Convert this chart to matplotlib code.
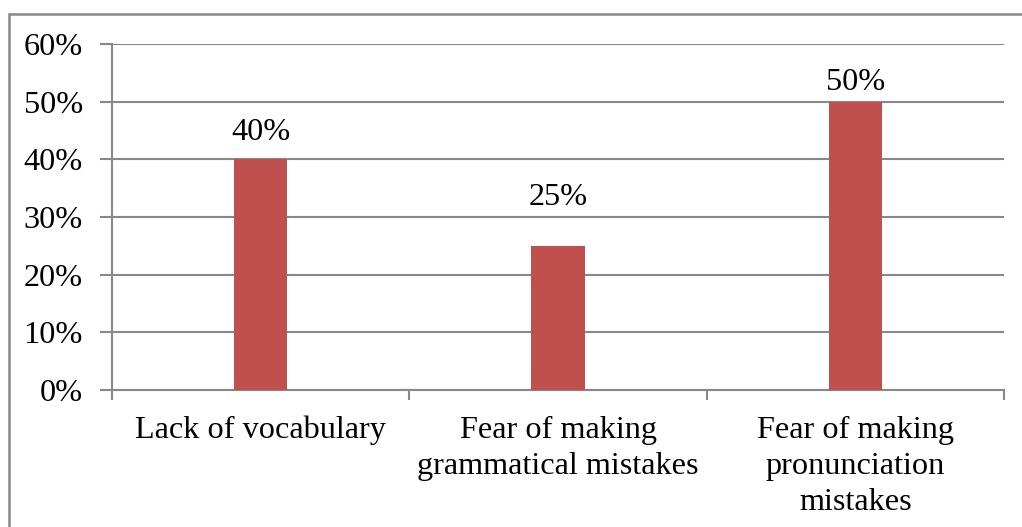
import numpy as np
import matplotlib.pyplot as plt
from matplotlib.patches import Rectangle
from matplotlib.ticker import FuncFormatter

categories = ["Lack of vocabulary", "Fear of making\ngrammatical mistakes",
              "Fear of making\npronunciation\nmistakes"]
values = [40, 25, 50]
value_labels = ["40%", "25%", "50%"]

GRAY = "#888888"
BAR = "#C0504D"
FS = 23.2

plt.rcParams['font.family'] = ['Liberation Serif', 'DejaVu Serif']

fig = plt.figure(figsize=(10.22, 5.27), dpi=100)
ax = fig.add_axes([112/1022, 1-390/527, (1004-112)/1022, (390-44)/527])

x = np.arange(len(categories))
ax.bar(x, values, width=0.18, color=BAR, zorder=3)

ax.set_xlim(-0.5, len(categories)-0.5)
ax.set_ylim(0, 60)
ax.set_yticks(np.arange(0, 61, 10))
ax.yaxis.set_major_formatter(FuncFormatter(lambda v, p: "%d%%" % v))
ax.set_xticks(np.arange(-0.5, len(categories), 1.0))
ax.set_xticklabels([])
ax.set_xticks(x, minor=True)
ax.set_xticklabels(categories, minor=True, fontsize=FS, linespacing=1.32)
ax.tick_params(axis='x', which='minor', length=0, pad=18.5)
ax.tick_params(axis='x', which='major', length=7, width=1.5, color=GRAY)
ax.tick_params(axis='y', length=9, width=1.5, color=GRAY, labelsize=FS, pad=12)

ax.grid(axis='y', color=GRAY, linewidth=1.5, zorder=0)
for s in ['top', 'right']:
    ax.spines[s].set_visible(False)
for s in ['left', 'bottom']:
    ax.spines[s].set_color(GRAY)
    ax.spines[s].set_linewidth(1.5)

# data labels, offsets as placed in the original
label_offsets = [14, 29.5, 8.5]
for xi, v, lab, off in zip(x, values, value_labels, label_offsets):
    ax.annotate(lab, (xi, v), xytext=(0, off), textcoords='offset points',
                ha='center', va='baseline', fontsize=FS)

# chart area border
fig.patches.append(Rectangle((8.5/1022, -0.05), 1.1, 1-13.5/527+0.05,
                             transform=fig.transFigure, fill=False,
                             edgecolor=GRAY, linewidth=1.8))

fig.savefig("out.png", dpi=100)
